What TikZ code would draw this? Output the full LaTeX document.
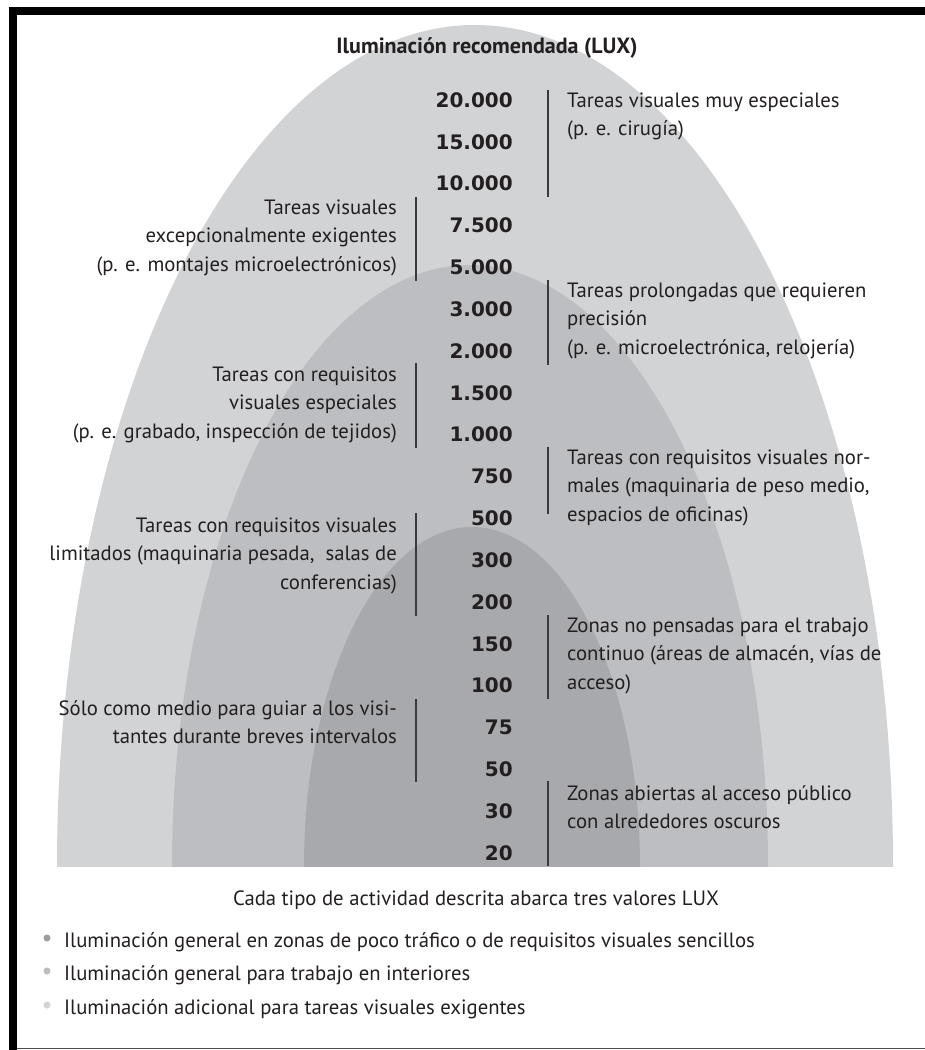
\documentclass[tikz,border=0pt]{standalone}
\usepackage{fontspec}
\setmainfont{PT Sans}
\newfontfamily\numfont{DejaVu Sans}
\definecolor{arcA}{HTML}{D2D3D5}
\definecolor{arcB}{HTML}{BDBEC1}
\definecolor{arcC}{HTML}{A8A9AC}
\definecolor{txt}{HTML}{231F20}
\definecolor{linec}{HTML}{3A3A3C}
\definecolor{dotA}{HTML}{9C9DA0}
\definecolor{dotB}{HTML}{BBBCBF}
\definecolor{dotC}{HTML}{D3D4D6}
\begin{document}
\begin{tikzpicture}[x=1pt,y=-1pt,
  desc/.style={font=\fontsize{20.7}{28.5}\selectfont, text=txt, inner sep=0pt},
  rdesc/.style={desc, align=left, anchor=base west},
  ldesc/.style={desc, align=right, anchor=base east},
  num/.style={font=\numfont\bfseries\fontsize{20}{24}\selectfont, text=txt, inner sep=0pt, anchor=base east},
  bracket/.style={draw=linec, line width=1.5pt},
  dot/.style={circle, inner sep=0pt, minimum size=7pt}]
\useasboundingbox (0,0) rectangle (925,1050);
\fill[white] (0,0) rectangle (925,1050);
% frame
\fill[black] (9,7) rectangle (925,15);
\fill[black] (9,7) rectangle (17,1050);
\draw[draw=black!70, line width=1.5pt] (17,1048.5) -- (925,1048.5);
% arcs
\begin{scope}
\clip (0,0) rectangle (925,866);
\fill[arcA] (475,866) ellipse [x radius=418, y radius=841];
\fill[arcB] (470,866) ellipse [x radius=298, y radius=601];
\fill[arcC] (472,866) ellipse [x radius=168, y radius=339];
\end{scope}
% title
\node[font=\bfseries\fontsize{22}{26}\selectfont, text=txt, inner sep=0pt, anchor=base] (title) at (487,53) {Iluminación recomendada (LUX)};
% numbers
\foreach \v [count=\i] in {20.000,15.000,10.000,7.500,5.000,3.000,2.000,1.500,1.000,750,500,300,200,150,100,75,50,30,20}
  \node[num] (n\i) at (513,{107.3+41.83*(\i-1)}) {\v};
% right descriptions (anchor = baseline of last line)
\node[rdesc] (r1) at (567,135.5) {Tareas visuales muy especiales\\(p. e. cirugía)};
\node[rdesc] (r2) at (567,354) {Tareas prolongadas que requieren\\precisión\\(p. e. microelectrónica, relojería)};
\node[rdesc] (r3) at (567,521) {Tareas con requisitos visuales nor-\\males (maquinaria de peso medio,\\espacios de oficinas)};
\node[rdesc] (r4) at (567,689) {Zonas no pensadas para el trabajo\\continuo (áreas de almacén, vías de\\acceso)};
\node[rdesc] (r5) at (567,828.5) {Zonas abiertas al acceso público\\con alrededores oscuros};
% left descriptions
\node[ldesc] (l1) at (397,271) {Tareas visuales\\excepcionalmente exigentes\\(p. e. montajes microelectrónicos)};
\node[ldesc] (l2) at (397,438) {Tareas con requisitos\\visuales especiales\\(p. e. grabado, inspección de tejidos)};
\node[ldesc] (l3) at (397,589) {Tareas con requisitos visuales\\limitados (maquinaria pesada,\ \ salas de\\conferencias)};
\node[ldesc] (l4) at (397,743.5) {Sólo como medio para guiar a los visi-\\tantes durante breves intervalos};
% brackets
\coordinate (ra1) at (548,90);  \coordinate (rb1) at (548,197);
\coordinate (ra2) at (548,280); \coordinate (rb2) at (548,365);
\coordinate (ra3) at (548,447); \coordinate (rb3) at (548,514);
\coordinate (ra4) at (548,615); \coordinate (rb4) at (548,699);
\coordinate (ra5) at (548,781); \coordinate (rb5) at (548,866);
\coordinate (la1) at (416,197); \coordinate (lb1) at (416,281);
\coordinate (la2) at (416,363); \coordinate (lb2) at (416,448);
\coordinate (la3) at (416,513); \coordinate (lb3) at (416,616);
\coordinate (la4) at (416,699); \coordinate (lb4) at (416,782);
\foreach \k in {1,...,5} \draw[bracket] (ra\k) -- (rb\k);
\foreach \k in {1,...,4} \draw[bracket] (la\k) -- (lb\k);
% caption and legend
\node[desc, anchor=base] (cap) at (476,905) {Cada tipo de actividad descrita abarca tres valores LUX};
\node[desc, anchor=base west] (b1) at (64,947) {Iluminación general en zonas de poco tráfico o de requisitos visuales sencillos};
\node[desc, anchor=base west] (b2) at (64,980) {Iluminación general para trabajo en interiores};
\node[desc, anchor=base west] (b3) at (64,1014) {Iluminación adicional para tareas visuales exigentes};
\node[dot, fill=dotA] (d1) at (47,938) {};
\node[dot, fill=dotB] (d2) at (47,971) {};
\node[dot, fill=dotC] (d3) at (47,1005) {};
\end{tikzpicture}
\end{document}
